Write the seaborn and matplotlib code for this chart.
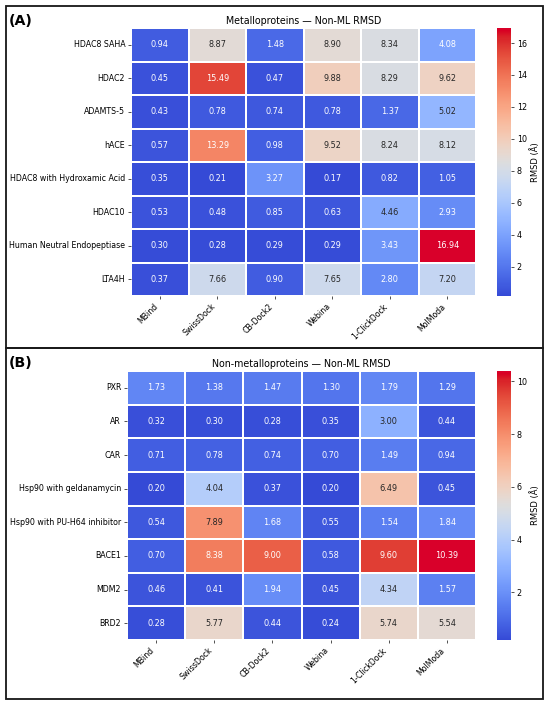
import numpy as np
import pandas as pd
import seaborn as sns
import matplotlib.pyplot as plt
import matplotlib.colors as mcolors
from matplotlib.patches import Rectangle

tools = ['MBind', 'SwissDock', 'CB-Dock2', 'Webina', '1-ClickDock', 'MolModa']

metallo_targets = [
    'HDAC8 SAHA', 'HDAC2', 'ADAMTS-5', 'hACE', 'HDAC8 with Hydroxamic Acid',
    'HDAC10', 'Human Neutral Endopeptiase', 'LTA4H'
]
metallo_rmsd = [
    [0.94, 8.87, 1.48, 8.90, 8.34, 4.08],
    [0.45, 15.49, 0.47, 9.88, 8.29, 9.62],
    [0.43, 0.78, 0.74, 0.78, 1.37, 5.02],
    [0.57, 13.29, 0.98, 9.52, 8.24, 8.12],
    [0.35, 0.21, 3.27, 0.17, 0.82, 1.05],
    [0.53, 0.48, 0.85, 0.63, 4.46, 2.93],
    [0.30, 0.28, 0.29, 0.29, 3.43, 16.94],
    [0.37, 7.66, 0.90, 7.65, 2.80, 7.20],
]

nonmetallo_targets = [
    'PXR', 'AR', 'CAR', 'Hsp90 with geldanamycin', 'Hsp90 with PU-H64 inhibitor',
    'BACE1', 'MDM2', 'BRD2'
]
nonmetallo_rmsd = [
    [1.73, 1.38, 1.47, 1.30, 1.79, 1.29],
    [0.32, 0.30, 0.28, 0.35, 3.00, 0.44],
    [0.71, 0.78, 0.74, 0.70, 1.49, 0.94],
    [0.20, 4.04, 0.37, 0.20, 6.49, 0.45],
    [0.54, 7.89, 1.68, 0.55, 1.54, 1.84],
    [0.70, 8.38, 9.00, 0.58, 9.60, 10.39],
    [0.46, 0.41, 1.94, 0.45, 4.34, 1.57],
    [0.28, 5.77, 0.44, 0.24, 5.74, 5.54],
]

# the reference looks like coolwarm with a bit more punch on the ends
base = plt.get_cmap('coolwarm')(np.linspace(0, 1, 256))[:, :3]
hsv = mcolors.rgb_to_hsv(base)
hsv[:, 2] = np.clip(hsv[:, 2] + (1 - hsv[:, 2]) * 0.5 * hsv[:, 1], 0, 1)
hsv[:, 1] = np.clip(hsv[:, 1] * 1.08, 0, 1)
vivid = mcolors.ListedColormap(mcolors.hsv_to_rgb(hsv), name='coolwarm_vivid')

W, H, DPI = 550, 706, 60
fig = plt.figure(figsize=(W / DPI, H / DPI), dpi=DPI)


def fx(px):
    return px / W


def fy(px):
    return 1 - px / H


def panel(targets, values, title, label, hm_left, hm_top, hm_bottom, box_top, box_bottom):
    df = pd.DataFrame(values, index=targets, columns=tools)
    ax = fig.add_axes([fx(hm_left), fy(hm_bottom), fx(476) - fx(hm_left), fy(hm_top) - fy(hm_bottom)])
    cax = fig.add_axes([fx(497), fy(hm_bottom), fx(511) - fx(497), fy(hm_top) - fy(hm_bottom)])
    sns.heatmap(df, ax=ax, cbar_ax=cax, annot=True, fmt=".2f", cmap=vivid,
                linewidths=0.35, linecolor='white', annot_kws={'fontsize': 9.8},
                cbar_kws={'label': 'RMSD (Å)'})
    ax.set_title(title, fontsize=11.4, pad=5)
    ax.set_xticklabels(ax.get_xticklabels(), rotation=45, ha='right', fontsize=9.4)
    ax.set_yticklabels(ax.get_yticklabels(), rotation=0, fontsize=9.4)
    ax.set_xlabel('')
    ax.set_ylabel('')
    cax.tick_params(labelsize=9.6)
    cax.yaxis.label.set_size(10)
    fig.text(fx(9), fy(box_top + 15), label, fontsize=17, fontweight='bold', va='center', ha='left')
    fig.add_artist(Rectangle((fx(5.5), fy(box_bottom)), fx(543) - fx(5.5), fy(box_top) - fy(box_bottom),
                             transform=fig.transFigure, fill=False, edgecolor='#1a1a1a', linewidth=2.2))


panel(metallo_targets, metallo_rmsd, 'Metalloproteins — Non-ML RMSD', '(A)',
      131, 28, 296, 6, 348)
panel(nonmetallo_targets, nonmetallo_rmsd, 'Non-metalloproteins — Non-ML RMSD', '(B)',
      127, 371, 640, 348, 699)

fig.savefig('out.png', dpi=DPI)
plt.close(fig)
